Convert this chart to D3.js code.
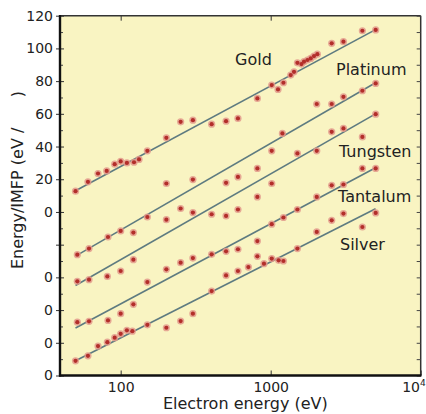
<!DOCTYPE html>
<html><head><meta charset="utf-8">
<script src="https://cdn.jsdelivr.net/npm/d3@7/dist/d3.min.js"></script>
<style>
html,body{margin:0;padding:0;background:#fff;}
svg{display:block;}
text{font-family:"DejaVu Sans",sans-serif;fill:#222;}
</style></head>
<body>
<svg id="c" width="426" height="414"></svg>
<script>
// ---- data ----
const seriesNames = ["Gold","Platinum","Tungsten","Tantalum","Silver"];
const gold = [[50,12.7],[60.5,18.4],[70.6,23.5],[80.7,25.1],[91.2,29.2],[100,30.9],[110,30],[122.7,30.4],[132.5,32.1],[150.6,37.4],[201.6,45.3],[251,55.1],[303,56.1],[404,53.7],[504,55.5],[605,57.2],[815,69.4],[1016,77.6],[1119,74.9],[1216,79],[1360,83.7],[1430,85.7],[1507,91.2],[1603,90.4],[1667,91.9],[1758,92.9],[1849,93.9],[1945,95.3],[2047,96.5],[2551,103.1],[3055,104.1],[4085,110.8],[5012,111.3]];
const platinum = [[51.4,-26.1],[61.5,-22.4],[82.3,-15.3],[100,-11.6],[121.5,-12.6],[150.6,-3.1],[201.6,-4.7],[251,2.1],[201.6,17.4],[303,19.8],[504,17.8],[605,21.4],[815,26.6],[1016,37.4],[1197,48],[2028,66],[2551,66],[3055,70.4],[4085,74.1],[5012,78.6]];
const tungsten = [[51.4,-42.4],[61.5,-41.4],[81.5,-39.4],[100,-36.1],[121.5,-29.2],[303,-0.4],[404,-1.4],[504,-2.4],[605,1.5],[815,9.2],[1016,17.4],[1507,35.8],[2028,37.4],[2551,49],[3055,51.1],[4085,45.9],[5012,59.8]];
const tantalum = [[51.4,-67.4],[61.5,-66.9],[82.3,-66.3],[100,-62.2],[121.5,-56.5],[150.6,-42.9],[201.6,-35.1],[251,-31],[303,-28.2],[404,-25.9],[504,-24.1],[605,-22.8],[815,-17.8],[815,-27.1],[1016,-7.5],[1216,-3.4],[1507,1.5],[2028,9.2],[2551,16.3],[3055,16.8],[4085,26.6],[5012,26.6]];
const silver = [[50,-91],[60.5,-88],[70.6,-82],[81.5,-79.6],[91.2,-76.9],[100,-74.5],[110,-72.4],[119.6,-72.9],[150.6,-69],[201.6,-70.8],[251,-66.7],[303,-62.2],[404,-48.4],[504,-38.8],[605,-36.1],[710,-33.7],[902,-31.6],[1016,-28.5],[1130,-29.6],[1216,-30],[1507,-22.4],[2028,-12.2],[2551,-5.1],[3055,-1],[4085,-9.2],[5012,-0.6]];
const fitLines = [[[50,13],[5000,111.5]],[[50,-27],[5000,79]],[[50,-45],[5000,60]],[[50,-71],[5000,27]],[[50,-91],[5000,2]]];
const labelAnchors = [[235,65],[336,75],[339,157],[338,202],[340,250]]; // pixel positions for series names
const xTickValues = [100,1000,10000];
const xTickLabels = ["100","1000","10|4"];
const yTickValues = [-100,-80,-60,-40,-20,0,20,40,60,80,100,120];
const yTickLabels = ["0","0","0","0","","0","20","40","60","80","100","120"];
const xTitle = "Electron energy (eV)";
const yTitle = "Energy/IMFP (eV /\u00a0\u00a0\u00a0\u00a0\u00a0\u00a0)";

// ---- layout ----
const L=60, R=420.7, T=15.7, B=375.5;
const x = d3.scaleLog().domain([39.4,10000]).range([L,R]);
const y = d3.scaleLinear().domain([-100,120]).range([B,T]);
const svg = d3.select("#c");

svg.append("rect").attr("x",L).attr("y",T).attr("width",R-L).attr("height",B-T).attr("fill","#f9f4c2");

// fit lines
const lineGen = d3.line().x(d=>x(d[0])).y(d=>y(d[1]));
svg.append("g").selectAll("path").data(fitLines).join("path")
  .attr("d",lineGen).attr("fill","none").attr("stroke","#5e7b80").attr("stroke-width",1.6);

// points
const allSeries = [gold,platinum,tungsten,tantalum,silver];
const pg = svg.append("g");
allSeries.forEach(s=>{
  pg.append("g").selectAll("circle").data(s).join("circle")
    .attr("cx",d=>x(d[0])).attr("cy",d=>y(d[1])).attr("r",3.6)
    .attr("fill","#e39a8c").attr("opacity",0.85);
  pg.append("g").selectAll("circle").data(s).join("circle")
    .attr("cx",d=>x(d[0])).attr("cy",d=>y(d[1])).attr("r",2.1)
    .attr("fill","#b32e2a");
});

// series labels
svg.append("g").selectAll("text").data(seriesNames).join("text")
  .attr("x",(d,i)=>labelAnchors[i][0]).attr("y",(d,i)=>labelAnchors[i][1])
  .attr("font-size",16).text(d=>d);

// frame
svg.append("line").attr("x1",L).attr("x2",R).attr("y1",T).attr("y2",T).attr("stroke","#333").attr("stroke-width",1.5);
svg.append("line").attr("x1",R).attr("x2",R).attr("y1",T).attr("y2",B).attr("stroke","#333").attr("stroke-width",1.5);

// right minor ticks
const minorY = d3.range(-90,120,10);
svg.append("g").attr("transform",`translate(${R},0)`)
  .call(d3.axisRight(y).tickValues(d3.range(-100,121,10)).tickSize(-4).tickFormat(""))
  .call(g=>{g.select(".domain").remove(); g.selectAll("line").attr("stroke","#444");});

// top ticks
svg.append("g").attr("transform",`translate(0,${T})`)
  .call(d3.axisTop(x).tickValues([100,1000]).tickSize(-5).tickFormat(""))
  .call(g=>{g.select(".domain").remove(); g.selectAll("line").attr("stroke","#333");});

// left axis
const ya = svg.append("g").attr("transform",`translate(${L},0)`)
  .call(d3.axisLeft(y).tickValues(yTickValues).tickSize(4).tickPadding(3)
     .tickFormat((d,i)=>yTickLabels[i]));
ya.select(".domain").remove();
ya.selectAll("line").attr("stroke","#333");
ya.selectAll("text").attr("font-size",14).attr("fill","#222").style("font-family",'"DejaVu Sans",sans-serif');
svg.append("g").attr("transform",`translate(${L},0)`)
  .call(d3.axisRight(y).tickValues(yTickValues).tickSize(4).tickFormat(""))
  .call(g=>{g.select(".domain").remove(); g.selectAll("line").attr("stroke","#333");});
svg.append("g").attr("transform",`translate(${L},0)`)
  .call(d3.axisRight(y).tickValues(minorY.filter(v=>v%20!==0)).tickSize(3).tickFormat(""))
  .call(g=>{g.select(".domain").remove(); g.selectAll("line").attr("stroke","#444");});

// bottom axis
const xa = svg.append("g").attr("transform",`translate(0,${B})`)
  .call(d3.axisBottom(x).tickValues(xTickValues).tickSize(-5).tickPadding(9).tickFormat(""));
xa.select(".domain").remove();
xa.selectAll("line").attr("stroke","#333");
xa.selectAll(".tick").each(function(d,i){
  const parts = xTickLabels[i].split("|");
  const t = d3.select(this).append("text").attr("y",16).attr("font-size",14).attr("fill","#222")
    .style("font-family",'"DejaVu Sans",sans-serif');
  if(parts[1]){
    t.attr("text-anchor","end").attr("x",4.5);
  } else {
    t.attr("text-anchor","middle");
  }
  t.append("tspan").text(parts[0]);
  if(parts[1]) t.append("tspan").attr("dy",-6).attr("font-size",9).text(parts[1]);
});

// thick axis lines
svg.append("line").attr("x1",L).attr("x2",L).attr("y1",T-0.7).attr("y2",B+1).attr("stroke","#111").attr("stroke-width",2.4);
svg.append("line").attr("x1",L-1).attr("x2",R+0.7).attr("y1",B).attr("y2",B).attr("stroke","#111").attr("stroke-width",2.4);

// titles
svg.append("text").attr("x",(L+R)/2+5).attr("y",409).attr("text-anchor","middle").attr("font-size",16).text(xTitle);
svg.append("text").attr("transform","translate(23,180) rotate(-90)").attr("text-anchor","middle").attr("font-size",16).text(yTitle);
</script>
</body></html>
